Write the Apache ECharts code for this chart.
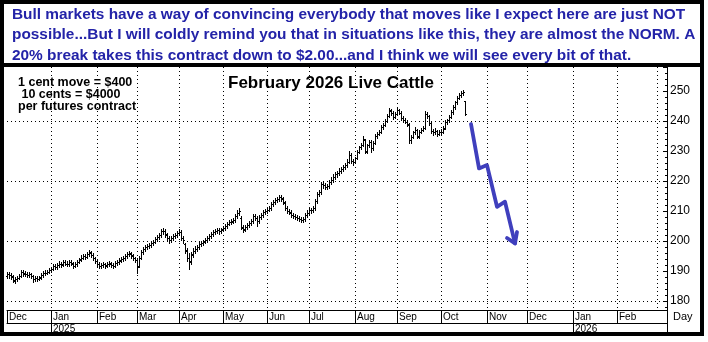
<!DOCTYPE html>
<html><head><meta charset="utf-8">
<script src="https://cdn.jsdelivr.net/npm/echarts@6/dist/echarts.min.js"></script>
<style>html,body{margin:0;padding:0;background:#fff}#c{width:708px;height:342px}</style>
</head><body><div id="c"></div>
<script>
// ---------- texts ----------
const commentLines = [
  'Bull markets have a way of convincing everybody that moves like I expect here are just NOT',
  'possible...But I will coldly remind you that in situations like this, they are almost the NORM. A',
  '20% break takes this contract down to $2.00...and I think we will see every bit of that.'
];
const chartTitle = 'February 2026 Live Cattle';
const contractNotes = ['1 cent move = $400', ' 10 cents = $4000', 'per futures contract'];
const monthNames = ['Jan','Feb','Mar','Apr','May','Jun','Jul','Aug','Sep','Oct','Nov','Dec'];
const axisName = 'Day';

// ---------- axis range (trading days, Mon-Fri) ----------
const axisStart = '2024-12-02';
const axisEnd = '2026-03-09';
const yMin = 177, yMax = 258;
const gridValues = [180, 200, 220, 240];

// ---------- daily OHLC, Dec 2 2024 .. Oct 17 2025 ----------
const open = [
  188.4,189.1,188.7,188.0,186.8,187.3,187.7,188.5,189.7,189.1,189.0,188.6,188.9,188.2,187.3,187.6,187.5,187.9,188.6,189.3,189.5,189.8,
  190.2,190.7,191.7,191.3,192.0,192.5,192.2,193.0,192.4,192.3,193.0,192.5,191.8,192.3,193.1,193.9,194.5,195.0,194.8,195.8,196.1,195.3,194.2,
  193.4,192.3,191.6,192.0,192.2,191.9,192.3,192.5,192.0,191.7,192.6,193.0,193.6,194.0,194.4,195.1,195.6,195.8,195.1,194.2,
  193.6,191.8,194.5,196.3,197.4,197.9,198.3,198.7,199.3,199.8,200.8,201.5,202.1,203.2,203.4,202.1,200.9,200.5,201.0,201.6,202.1,
  202.8,203.0,200.9,199.0,196.6,194.3,193.3,195.6,196.8,197.4,198.0,198.9,199.3,199.9,200.4,201.0,201.6,202.3,202.9,203.4,203.7,203.2,
  203.9,204.3,205.0,205.8,206.2,206.6,207.0,208.4,209.5,207.8,204.5,203.9,204.6,205.3,206.0,206.6,208.2,207.6,206.6,207.9,208.6,209.6,
  210.1,210.5,211.0,212.2,213.0,213.7,214.0,214.6,214.1,212.8,210.9,210.0,209.5,208.8,208.4,208.0,207.6,207.3,206.9,207.3,208.7,
  209.5,210.2,210.3,211.0,213.3,215.8,216.3,219.0,218.6,218.0,218.4,219.8,220.5,221.5,222.2,222.7,223.4,224.0,224.6,225.3,226.5,228.6,226.7,
  226.3,227.7,229.7,231.2,232.1,233.6,229.9,232.0,233.0,231.0,232.7,235.0,235.8,236.5,238.0,238.7,240.1,241.8,243.5,242.7,241.5,
  242.5,243.6,242.7,241.0,240.2,239.8,238.8,233.6,234.7,236.2,236.9,234.9,236.4,237.0,237.8,242.4,241.6,239.2,236.6,236.2,236.6,235.8,
  236.2,236.5,237.6,239.6,240.3,241.5,243.0,244.6,246.2,247.8,248.8,249.3,246.6
];
const high = [
  189.8,189.7,189.3,188.6,188.0,188.5,189.1,190.3,190.3,189.9,189.7,189.6,189.4,188.8,188.3,188.2,188.5,189.2,190.0,190.2,190.4,190.9,
  191.2,192.3,192.4,192.7,193.2,193.1,193.7,193.6,193.2,193.7,193.6,193.1,192.9,193.7,194.5,195.2,195.8,195.7,196.3,196.9,196.6,195.9,194.8,
  194.0,192.9,192.6,192.9,192.7,193.0,193.3,193.1,192.6,193.2,193.7,194.2,194.7,195.0,195.8,196.3,196.7,196.4,195.7,194.8,
  194.5,195.1,196.9,198.1,198.6,198.9,199.4,200.0,200.4,201.5,202.1,202.7,203.9,204.3,204.0,202.7,201.6,201.7,202.3,202.7,203.5,
  203.9,203.6,201.7,199.5,197.6,196.1,196.5,197.6,198.2,198.7,199.6,200.0,200.5,201.1,201.6,202.3,202.9,203.6,204.1,204.4,204.3,204.5,
  204.9,205.7,206.5,206.9,207.2,207.7,209.1,210.2,210.9,208.3,205.3,205.3,206.0,206.7,207.3,209.0,208.9,208.2,208.6,209.3,210.3,210.8,
  211.2,211.7,212.9,213.7,214.4,214.8,215.3,215.2,214.7,213.5,211.6,210.7,210.2,209.5,209.1,208.7,208.3,208.0,207.9,209.3,210.2,
  210.9,211.0,211.6,213.9,216.5,217.0,219.8,219.9,219.3,219.1,220.5,221.2,222.2,223.0,223.4,224.2,224.7,225.4,226.1,227.2,230.1,229.3,227.5,
  228.0,230.2,231.7,232.6,235.0,234.0,232.5,233.8,233.6,233.2,235.6,236.4,237.0,238.6,239.3,240.6,242.4,244.4,244.0,243.2,243.0,
  244.2,244.0,243.2,241.6,240.9,240.4,239.2,235.4,236.8,238.0,237.4,237.0,237.6,238.4,243.2,243.0,242.0,239.6,237.4,237.6,237.0,236.9,
  237.2,238.2,240.2,240.8,242.0,243.6,245.2,246.8,248.4,249.4,250.0,250.5,246.8
];
const low = [
  187.7,187.7,187.3,186.2,186.1,186.7,187.2,187.9,188.5,188.3,188.0,188.1,187.7,186.5,186.7,186.7,186.9,187.4,188.0,188.7,188.9,189.2,
  189.6,190.2,190.6,190.8,191.4,191.5,191.7,191.9,191.6,191.8,192.0,191.0,191.2,191.8,192.6,193.3,193.9,193.9,194.3,195.1,194.7,193.7,192.8,
  191.7,190.9,191.0,191.4,191.1,191.3,191.7,191.4,190.9,191.2,192.0,192.5,193.0,193.4,193.8,194.5,195.0,194.5,193.6,192.9,
  189.4,191.2,193.9,195.7,196.7,197.2,197.6,198.1,198.6,199.2,200.1,200.8,201.5,202.5,201.5,200.3,199.3,199.8,200.4,200.9,201.5,
  202.0,200.2,199.4,196.0,193.5,190.8,192.2,194.7,196.1,196.7,197.4,198.3,198.7,199.2,199.8,200.4,201.0,201.7,202.3,202.8,202.5,202.7,
  203.3,203.7,204.4,205.2,205.6,205.9,206.5,207.8,208.8,203.9,203.0,203.3,204.0,204.7,205.4,206.1,206.9,204.9,206.1,207.3,208.0,209.0,
  209.5,209.9,210.5,211.6,212.4,213.1,213.4,213.5,212.4,210.3,209.3,208.9,208.1,207.7,207.3,206.9,206.6,206.2,206.3,206.8,208.1,
  208.9,209.5,209.7,210.5,212.7,215.0,215.7,217.8,217.2,217.3,217.8,219.1,219.8,220.8,221.5,222.0,222.7,223.3,223.9,224.7,225.9,226.1,225.3,
  225.9,227.3,229.2,230.6,231.8,229.2,229.5,231.5,229.6,230.5,232.3,234.4,235.2,236.1,237.4,238.2,239.6,241.3,242.0,240.8,241.0,
  242.0,242.2,240.4,239.6,239.2,238.4,232.6,232.8,234.2,235.6,234.2,234.4,235.9,236.6,237.5,241.0,238.8,236.0,235.4,235.8,235.0,235.2,
  235.4,236.0,237.2,239.0,239.8,241.0,242.5,244.1,245.7,247.2,248.1,248.6,242.0
];
const close = [
  189.0,188.6,188.2,186.9,187.2,187.8,188.4,189.6,189.2,189.0,188.7,188.9,188.3,187.2,187.6,187.4,187.8,188.6,189.4,189.5,189.7,190.2,
  190.6,191.6,191.2,192.0,192.4,192.1,193.0,192.5,192.2,193.0,192.6,191.7,192.3,193.0,193.8,194.5,195.0,194.6,195.7,196.2,195.4,194.3,193.5,
  192.4,191.6,191.9,192.2,191.8,192.3,192.6,192.0,191.6,192.6,193.0,193.5,194.0,194.3,195.1,195.6,195.9,195.2,194.2,193.8,
  191.5,194.4,196.2,197.4,197.9,198.2,198.7,199.3,199.7,200.8,201.4,202.0,203.2,203.5,202.2,201.0,200.4,200.9,201.6,202.0,202.8,
  203.1,201.0,200.2,197.0,194.5,193.0,195.5,196.8,197.4,198.0,198.9,199.3,199.8,200.4,200.9,201.6,202.2,202.9,203.4,203.7,203.2,203.8,
  204.2,205.0,205.8,206.2,206.5,207.0,208.4,209.5,209.9,204.6,203.8,204.6,205.3,206.0,206.6,208.2,207.6,206.6,207.9,208.6,209.6,210.1,
  210.5,211.0,212.2,213.0,213.7,214.0,214.6,214.2,213.1,211.0,210.0,209.6,208.8,208.4,208.0,207.6,207.3,206.9,207.2,208.6,209.5,
  210.2,210.3,210.9,213.2,215.8,216.2,219.0,218.6,218.0,218.3,219.8,220.4,221.5,222.2,222.6,223.4,223.9,224.6,225.3,226.4,228.8,226.8,226.2,
  227.6,229.6,231.2,232.0,234.0,229.8,232.0,233.1,230.9,232.6,235.0,235.8,236.4,238.0,238.6,240.0,241.8,243.6,242.8,241.4,242.4,
  243.6,242.8,241.0,240.2,239.8,239.0,233.6,234.6,236.2,237.0,234.8,236.4,236.9,237.6,242.4,241.8,239.3,236.6,236.2,236.6,235.8,236.2,
  236.4,237.5,239.6,240.2,241.4,243.0,244.6,246.2,247.8,248.8,249.2,249.8,242.4
];

// ---------- hand-drawn projection arrow ----------
const projDates  = ['2025-10-22','2025-10-28','2025-11-03','2025-11-10','2025-11-14','2025-11-21'];
const projValues = [239.0, 224.2, 225.3, 211.4, 213.1, 199.2];
const headDates  = ['2025-11-17','2025-11-21','2025-11-24'];
const headValues = [201.0, 199.2, 203.0];

// ---------- build trading-day categories ----------
function pad(n){return (n<10?'0':'')+n;}
function tradingDays(a, b){
  const out = [];
  const d = new Date(a + 'T00:00:00Z'), e = new Date(b + 'T00:00:00Z');
  while (d <= e) {
    const w = d.getUTCDay();
    if (w !== 0 && w !== 6) out.push(d.getUTCFullYear()+'-'+pad(d.getUTCMonth()+1)+'-'+pad(d.getUTCDate()));
    d.setUTCDate(d.getUTCDate()+1);
  }
  return out;
}
const days = tradingDays(axisStart, axisEnd);
const monthStart = new Set(), yearStart = new Set();
days.forEach((d, i) => {
  if (i === 0 || d.slice(5,7) !== days[i-1].slice(5,7)) monthStart.add(i);
  if (d.slice(5,7) === '01' && monthStart.has(i)) yearStart.add(i);
});
const shownMonth = (i) => monthStart.has(i) && i < days.length - 12;

const barData = open.map((o, k) => [k, o, high[k], low[k], close[k]]);

function renderBar(params, api) {
  const i = api.value(0);
  const pH = api.coord([i, api.value(2)]);
  const pL = api.coord([i, api.value(3)]);
  const pO = api.coord([i, api.value(1)]);
  const pC = api.coord([i, api.value(4)]);
  const x = Math.round(pH[0]);
  const yH = Math.round(pH[1]), yL = Math.round(pL[1]);
  const st = {fill: '#000'};
  return {type: 'group', children: [
    {type: 'rect', shape: {x: x, y: yH, width: 1, height: Math.max(1, yL - yH + 1)}, style: st},
    {type: 'rect', shape: {x: x - 1, y: Math.round(pO[1]), width: 1, height: 1}, style: st},
    {type: 'rect', shape: {x: x + 1, y: Math.round(pC[1]), width: 1, height: 1}, style: st}
  ]};
}

const FONT = '"Liberation Sans", Arial, sans-serif';
const chart = echarts.init(document.getElementById('c'), null, {renderer: 'canvas'});

const graphics = [
  {type: 'rect', z: 100, silent: true, shape: {x: 2, y: 2, width: 700, height: 332},
   style: {fill: 'none', stroke: '#000', lineWidth: 4}},
  {type: 'line', z: 100, silent: true, shape: {x1: 0, y1: 65, x2: 704, y2: 65},
   style: {stroke: '#000', lineWidth: 4}},
  {type: 'line', z: 50, silent: true, shape: {x1: 667.5, y1: 305, x2: 667.5, y2: 334},
   style: {stroke: '#000', lineWidth: 1}},
  {type: 'text', z: 60, silent: true, style: {text: axisName, x: 673, y: 317, font: '11px ' + FONT, fill: '#000', verticalAlign: 'middle'}},
  {type: 'text', z: 60, silent: true, style: {text: chartTitle, x: 331, y: 83, font: 'bold 17px ' + FONT, fill: '#000', align: 'center', verticalAlign: 'middle'}}
];
commentLines.forEach((t, k) => graphics.push({type: 'text', z: 60, silent: true,
  style: {text: t, x: 12, y: 15 + k * 20.2, font: 'bold 15.4px ' + FONT, fill: '#2323a8', verticalAlign: 'middle'}}));
contractNotes.forEach((t, k) => graphics.push({type: 'text', z: 60, silent: true,
  style: {text: t, x: 18, y: 83 + k * 12, font: 'bold 12.5px ' + FONT, fill: '#000', verticalAlign: 'middle'}}));

chart.setOption({
  animation: false,
  backgroundColor: '#fff',
  grid: {left: 7, right: 41, top: 67, bottom: 32},
  xAxis: [
    {type: 'category', data: days, boundaryGap: false, position: 'bottom',
     axisLine: {lineStyle: {color: '#000', width: 1}},
     axisTick: {show: true, interval: shownMonth, length: 13, lineStyle: {color: '#000'}},
     axisLabel: {interval: shownMonth, margin: 2, align: 'left',
       padding: [0, 0, 0, 2], fontSize: 10, fontFamily: FONT, color: '#000',
       formatter: (v) => monthNames[parseInt(v.slice(5,7), 10) - 1]},
     splitLine: {show: true, interval: (i) => monthStart.has(i) && i > 0,
       lineStyle: {color: '#000', width: 1, type: [1, 3]}}},
    {type: 'category', data: days, boundaryGap: false, position: 'bottom', offset: 13,
     axisLine: {lineStyle: {color: '#000', width: 1}},
     axisTick: {show: true, interval: (i) => yearStart.has(i), length: 11, lineStyle: {color: '#000'}},
     axisLabel: {interval: (i) => yearStart.has(i), margin: 1, align: 'left',
       padding: [0, 0, 0, 2], fontSize: 10, fontFamily: FONT, color: '#000',
       formatter: (v) => v.slice(0,4)},
     splitLine: {show: false}}
  ],
  yAxis: [
    {type: 'value', position: 'right', min: yMin, max: yMax, splitNumber: 8,
     axisLine: {show: true, lineStyle: {color: '#000'}},
     axisTick: {show: true, inside: true, length: 4, lineStyle: {color: '#000'}},
     axisLabel: {margin: 3, fontSize: 12, fontFamily: FONT, color: '#000',
       formatter: (v) => (v % 10 === 0 ? String(v) : '')},
     splitLine: {show: false}},
    {type: 'value', position: 'right', min: yMin, max: yMax, splitNumber: 40,
     axisLine: {show: false}, axisLabel: {show: false},
     axisTick: {show: true, inside: true, length: 2, lineStyle: {color: '#000'}},
     splitLine: {show: false}}
  ],
  graphic: graphics,
  series: [
    {type: 'custom', name: 'LCG26', xAxisIndex: 0, yAxisIndex: 0, data: barData,
     encode: {x: 0, y: [1, 2, 3, 4]}, renderItem: renderBar, silent: true, z: 5,
     markLine: {silent: true, symbol: 'none', label: {show: false}, animation: false,
       lineStyle: {color: '#000', width: 1, type: [1, 3]},
       data: gridValues.map(v => ({yAxis: v}))}},
    {type: 'line', name: 'projection', xAxisIndex: 0, yAxisIndex: 0, silent: true, z: 6,
     data: projDates.map((d, k) => [d, projValues[k]]), symbol: 'none',
     lineStyle: {color: '#3f3fbd', width: 3.8, cap: 'round', join: 'round'}},
    {type: 'line', name: 'arrowhead', xAxisIndex: 0, yAxisIndex: 0, silent: true, z: 6,
     data: headDates.map((d, k) => [d, headValues[k]]), symbol: 'none',
     lineStyle: {color: '#3f3fbd', width: 3.8, cap: 'round', join: 'round'}}
  ]
});
</script></body></html>
